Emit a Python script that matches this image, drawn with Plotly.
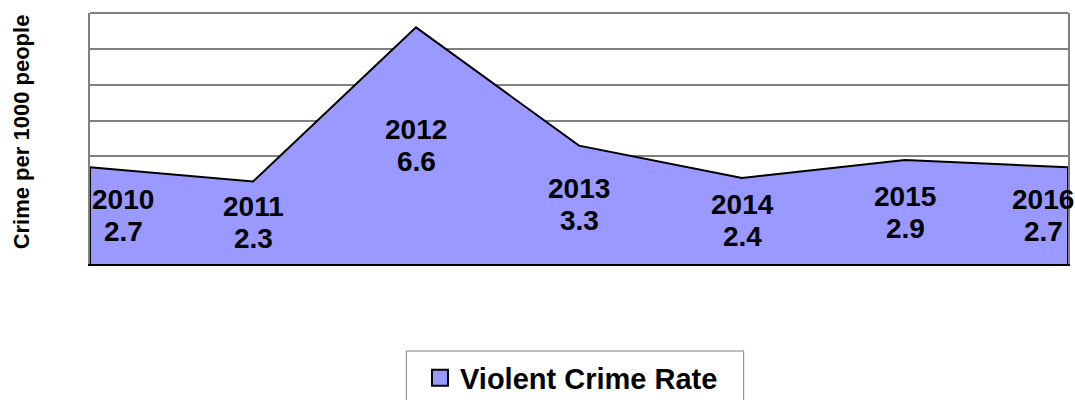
import plotly.graph_objects as go

years = [2010, 2011, 2012, 2013, 2014, 2015, 2016]
rates = [2.7, 2.3, 6.6, 3.3, 2.4, 2.9, 2.7]
series_name = "Violent Crime Rate"
y_title = "Crime per 1000 people"

FONT = "Liberation Sans, Arial, sans-serif"
FILL = "#9999FF"
GRAY = "#808080"

# closed polygon so the area outline includes the vertical end edges
poly_x = [years[0]] + years + [years[-1]]
poly_y = [0] + rates + [0]

fig = go.Figure()
fig.add_trace(go.Scatter(
    x=poly_x, y=poly_y, fill="toself", fillcolor=FILL, mode="lines",
    line=dict(color="black", width=2), showlegend=False, hoverinfo="skip",
))
# legend entry (square swatch)
fig.add_trace(go.Scatter(
    x=[None], y=[None], mode="markers", name=series_name,
    marker=dict(symbol="square", size=16, color=FILL, line=dict(color="black", width=2)),
))

n = len(years)
lab_font = dict(family=FONT, size=28, color="black", weight="bold")
for i, (yr, v) in enumerate(zip(years, rates)):
    if i == 0:
        xshift = 33
    elif i == n - 1:
        xshift = -25
    else:
        xshift = 0
    for txt, ys in ((str(yr), 16), (str(v), -16)):
        fig.add_annotation(
            x=yr, y=v / 2, xref="x", yref="y", text=txt,
            showarrow=False, xanchor="center", yanchor="middle",
            xshift=xshift, yshift=ys, font=lab_font,
        )

fig.add_annotation(
    x=-0.0704, y=0.525, xref="paper", yref="paper", text=y_title, textangle=-90,
    showarrow=False, xanchor="center", yanchor="middle",
    font=dict(family=FONT, size=22, color="black", weight="bold"),
)

# top border of the plot area and legend frame
fig.add_shape(type="line", xref="paper", yref="paper", x0=0, x1=1, y0=1, y1=1,
              line=dict(color=GRAY, width=2))
fig.add_shape(type="rect", xref="paper", yref="paper",
              x0=(407 - 90) / 980, x1=(745 - 90) / 980,
              y0=(264 - 351) / 251, y1=(264 - 405) / 251,
              line=dict(color=GRAY, width=1), fillcolor="rgba(0,0,0,0)")

fig.update_layout(
    width=1075, height=400,
    margin=dict(l=90, r=5, t=13, b=136),
    paper_bgcolor="white", plot_bgcolor="white",
    font=dict(family=FONT),
    xaxis=dict(range=[years[0], years[-1]], showticklabels=False, showgrid=False,
               zeroline=False, showline=True, linecolor="black", linewidth=2,
               ticks=""),
    yaxis=dict(range=[0, 7], dtick=1, showticklabels=False, showgrid=True,
               gridcolor=GRAY, gridwidth=1.5, zeroline=False,
               showline=True, mirror=True, linecolor=GRAY, linewidth=2,
               ticks=""),
    showlegend=True,
    legend=dict(orientation="h", xref="container", yref="container",
                x=420 / 1075, y=(400 - 378) / 400, xanchor="left", yanchor="middle",
                borderwidth=0, bgcolor="rgba(0,0,0,0)",
                font=dict(family=FONT, size=29, color="black", weight="bold"),
                itemwidth=30),
)

fig.write_html("out.html")
